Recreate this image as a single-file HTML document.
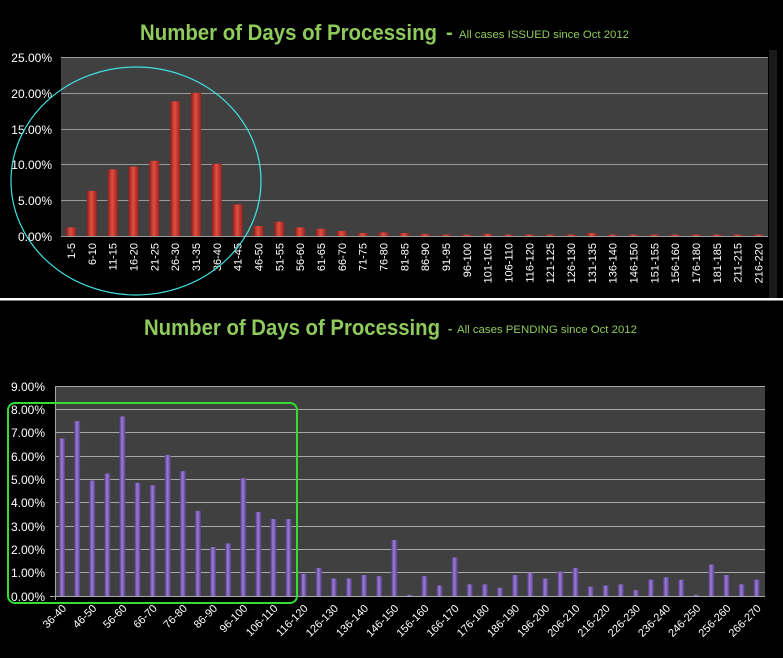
<!DOCTYPE html>
<html><head><meta charset="utf-8"><style>
html,body{margin:0;padding:0;background:#000;}
svg{display:block;font-family:"Liberation Sans",sans-serif;}
</style></head><body>
<svg width="783" height="658" viewBox="0 0 783 658" xmlns="http://www.w3.org/2000/svg">
<defs>
<linearGradient id="rg" x1="0" x2="1" y1="0" y2="0"><stop offset="0" stop-color="#8e1c1c"/><stop offset="0.45" stop-color="#e0503f"/><stop offset="1" stop-color="#9a2020"/></linearGradient>
<linearGradient id="pg" x1="0" x2="1" y1="0" y2="0"><stop offset="0" stop-color="#4f3680"/><stop offset="0.45" stop-color="#9b7ed4"/><stop offset="1" stop-color="#563c8a"/></linearGradient>
</defs>
<rect width="783" height="658" fill="#000"/>
<!-- TOP -->
<text x="140" y="40" font-size="22" font-weight="bold" fill="#8fca5c" textLength="297" lengthAdjust="spacingAndGlyphs">Number of Days of Processing</text>
<text x="446" y="39" font-size="20" font-weight="bold" fill="#8fca5c">-</text>
<text x="459" y="38" font-size="11" fill="#8fca5c" textLength="170" lengthAdjust="spacingAndGlyphs">All cases ISSUED  since Oct 2012</text>
<rect x="61" y="57" width="707" height="179" fill="#404040"/>
<rect x="769" y="50" width="8" height="248" fill="#1a1a1a"/>
<g stroke="#9a9a9a" stroke-width="1">
<line x1="61" x2="768" y1="57.5" y2="57.5"/><line x1="61" x2="768" y1="93.5" y2="93.5"/><line x1="61" x2="768" y1="129.5" y2="129.5"/><line x1="61" x2="768" y1="164.5" y2="164.5"/><line x1="61" x2="768" y1="200.5" y2="200.5"/><line x1="61" x2="768" y1="236.5" y2="236.5"/>
</g>
<g font-size="12" fill="#fff" text-anchor="end">
<text x="52" y="62">25.00%</text><text x="52" y="98">20.00%</text><text x="52" y="134">15.00%</text><text x="52" y="169">10.00%</text><text x="52" y="205">5.00%</text><text x="52" y="241">0.00%</text>
</g>
<g transform="translate(0,236) scale(1,-1)" fill="url(#rg)">
<rect x="66" y="0" width="10" height="8.6"/><rect x="86.8" y="0" width="10" height="45.1"/><rect x="107.7" y="0" width="10" height="66.6"/><rect x="128.5" y="0" width="10" height="69.5"/><rect x="149.3" y="0" width="10" height="75.2"/><rect x="170.2" y="0" width="10" height="134.6"/><rect x="191" y="0" width="10" height="143.2"/><rect x="211.8" y="0" width="10" height="72.3"/><rect x="232.6" y="0" width="10" height="31.5"/><rect x="253.5" y="0" width="10" height="10"/><rect x="274.3" y="0" width="10" height="14.3"/><rect x="295.1" y="0" width="10" height="8.6"/><rect x="316" y="0" width="10" height="7.2"/><rect x="336.8" y="0" width="10" height="5"/><rect x="357.6" y="0" width="10" height="2.9"/><rect x="378.5" y="0" width="10" height="3.6"/><rect x="399.3" y="0" width="10" height="2.9"/><rect x="420.1" y="0" width="10" height="2.1"/><rect x="441" y="0" width="10" height="1.4"/><rect x="461.8" y="0" width="10" height="1.4"/><rect x="482.6" y="0" width="10" height="2.1"/><rect x="503.5" y="0" width="10" height="1.4"/><rect x="524.3" y="0" width="10" height="1.4"/><rect x="545.1" y="0" width="10" height="1.4"/><rect x="566" y="0" width="10" height="1.4"/><rect x="586.8" y="0" width="10" height="2.9"/><rect x="607.6" y="0" width="10" height="1.4"/><rect x="628.5" y="0" width="10" height="1.4"/><rect x="649.3" y="0" width="10" height="1.4"/><rect x="670.1" y="0" width="10" height="1.4"/><rect x="691" y="0" width="10" height="1.4"/><rect x="711.8" y="0" width="10" height="1.4"/><rect x="732.6" y="0" width="10" height="1.4"/><rect x="753.5" y="0" width="10" height="1.4"/>
</g>
<g font-size="11" fill="#fff" text-anchor="end">
<text transform="translate(75,243) rotate(-90)">1-5</text><text transform="translate(95.8,243) rotate(-90)">6-10</text><text transform="translate(116.7,243) rotate(-90)">11-15</text><text transform="translate(137.5,243) rotate(-90)">16-20</text><text transform="translate(158.3,243) rotate(-90)">21-25</text><text transform="translate(179.2,243) rotate(-90)">26-30</text><text transform="translate(200,243) rotate(-90)">31-35</text><text transform="translate(220.8,243) rotate(-90)">36-40</text><text transform="translate(241.6,243) rotate(-90)">41-45</text><text transform="translate(262.5,243) rotate(-90)">46-50</text><text transform="translate(283.3,243) rotate(-90)">51-55</text><text transform="translate(304.1,243) rotate(-90)">56-60</text><text transform="translate(325,243) rotate(-90)">61-65</text><text transform="translate(345.8,243) rotate(-90)">66-70</text><text transform="translate(366.6,243) rotate(-90)">71-75</text><text transform="translate(387.5,243) rotate(-90)">76-80</text><text transform="translate(408.3,243) rotate(-90)">81-85</text><text transform="translate(429.1,243) rotate(-90)">86-90</text><text transform="translate(450,243) rotate(-90)">91-95</text><text transform="translate(470.8,243) rotate(-90)">96-100</text><text transform="translate(491.6,243) rotate(-90)">101-105</text><text transform="translate(512.5,243) rotate(-90)">106-110</text><text transform="translate(533.3,243) rotate(-90)">116-120</text><text transform="translate(554.1,243) rotate(-90)">121-125</text><text transform="translate(575,243) rotate(-90)">126-130</text><text transform="translate(595.8,243) rotate(-90)">131-135</text><text transform="translate(616.6,243) rotate(-90)">136-140</text><text transform="translate(637.5,243) rotate(-90)">146-150</text><text transform="translate(658.3,243) rotate(-90)">151-155</text><text transform="translate(679.1,243) rotate(-90)">156-160</text><text transform="translate(700,243) rotate(-90)">176-180</text><text transform="translate(720.8,243) rotate(-90)">181-185</text><text transform="translate(741.6,243) rotate(-90)">211-215</text><text transform="translate(762.5,243) rotate(-90)">216-220</text>
</g>
<ellipse cx="136" cy="181" rx="125" ry="114" fill="none" stroke="#40e0e0" stroke-width="1.2"/>
<rect x="0" y="298" width="783" height="2.5" fill="#fff"/>
<!-- BOTTOM -->
<text x="144" y="335" font-size="22" font-weight="bold" fill="#8fca5c" textLength="296" lengthAdjust="spacingAndGlyphs">Number of Days of Processing</text>
<text x="448" y="333" font-size="13" font-weight="bold" fill="#8fca5c">-</text>
<text x="457" y="333" font-size="11" fill="#8fca5c" textLength="180" lengthAdjust="spacingAndGlyphs">All cases PENDING  since Oct 2012</text>
<rect x="55" y="386" width="710" height="210" fill="#404040"/>
<g stroke="#a8a8a8" stroke-width="1">
<line x1="55" x2="765" y1="386.5" y2="386.5"/><line x1="55" x2="765" y1="409.5" y2="409.5"/><line x1="55" x2="765" y1="432.5" y2="432.5"/><line x1="55" x2="765" y1="456.5" y2="456.5"/><line x1="55" x2="765" y1="479.5" y2="479.5"/><line x1="55" x2="765" y1="502.5" y2="502.5"/><line x1="55" x2="765" y1="526.5" y2="526.5"/><line x1="55" x2="765" y1="549.5" y2="549.5"/><line x1="55" x2="765" y1="572.5" y2="572.5"/><line x1="50" x2="765" y1="596.5" y2="596.5"/>
<line x1="55.5" x2="55.5" y1="386" y2="600"/>
</g>
<g font-size="12" fill="#fff" text-anchor="end">
<text x="45" y="391">9.00%</text><text x="45" y="414">8.00%</text><text x="45" y="437">7.00%</text><text x="45" y="461">6.00%</text><text x="45" y="484">5.00%</text><text x="45" y="507">4.00%</text><text x="45" y="531">3.00%</text><text x="45" y="554">2.00%</text><text x="45" y="577">1.00%</text><text x="45" y="601">0.00%</text>
</g>
<g transform="translate(0,596) scale(1,-1)" fill="url(#pg)">
<rect x="59" y="0" width="6" height="157.5"/><rect x="74.1" y="0" width="6" height="175"/><rect x="89.2" y="0" width="6" height="115.5"/><rect x="104.3" y="0" width="6" height="122.5"/><rect x="119.4" y="0" width="6" height="179.6"/><rect x="134.5" y="0" width="6" height="113.2"/><rect x="149.6" y="0" width="6" height="110.8"/><rect x="164.7" y="0" width="6" height="141.1"/><rect x="179.8" y="0" width="6" height="124.8"/><rect x="194.9" y="0" width="6" height="85.2"/><rect x="210" y="0" width="6" height="49"/><rect x="225.1" y="0" width="6" height="52.5"/><rect x="240.2" y="0" width="6" height="117.8"/><rect x="255.3" y="0" width="6" height="84"/><rect x="270.4" y="0" width="6" height="77"/><rect x="285.5" y="0" width="6" height="77"/><rect x="300.6" y="0" width="6" height="22.2"/><rect x="315.7" y="0" width="6" height="28"/><rect x="330.8" y="0" width="6" height="17.5"/><rect x="345.9" y="0" width="6" height="17.5"/><rect x="361" y="0" width="6" height="21"/><rect x="376.1" y="0" width="6" height="19.8"/><rect x="391.2" y="0" width="6" height="56"/><rect x="406.3" y="0" width="6" height="1.2"/><rect x="421.4" y="0" width="6" height="19.8"/><rect x="436.5" y="0" width="6" height="10.5"/><rect x="451.6" y="0" width="6" height="38.5"/><rect x="466.7" y="0" width="6" height="11.7"/><rect x="481.8" y="0" width="6" height="11.7"/><rect x="496.9" y="0" width="6" height="8.2"/><rect x="512" y="0" width="6" height="21"/><rect x="527.1" y="0" width="6" height="23.3"/><rect x="542.2" y="0" width="6" height="17.5"/><rect x="557.3" y="0" width="6" height="24.5"/><rect x="572.4" y="0" width="6" height="28"/><rect x="587.5" y="0" width="6" height="9.3"/><rect x="602.6" y="0" width="6" height="10.5"/><rect x="617.7" y="0" width="6" height="11.7"/><rect x="632.8" y="0" width="6" height="5.8"/><rect x="647.9" y="0" width="6" height="16.3"/><rect x="663" y="0" width="6" height="18.7"/><rect x="678.1" y="0" width="6" height="16.3"/><rect x="693.2" y="0" width="6" height="1.2"/><rect x="708.3" y="0" width="6" height="31.5"/><rect x="723.4" y="0" width="6" height="21"/><rect x="738.5" y="0" width="6" height="11.7"/><rect x="753.6" y="0" width="6" height="16.3"/>
</g>
<g font-size="11" fill="#fff" text-anchor="end">
<text transform="translate(67,609) rotate(-45)">36-40</text><text transform="translate(97.2,609) rotate(-45)">46-50</text><text transform="translate(127.4,609) rotate(-45)">56-60</text><text transform="translate(157.6,609) rotate(-45)">66-70</text><text transform="translate(187.8,609) rotate(-45)">76-80</text><text transform="translate(218,609) rotate(-45)">86-90</text><text transform="translate(248.2,609) rotate(-45)">96-100</text><text transform="translate(278.4,609) rotate(-45)">106-110</text><text transform="translate(308.6,609) rotate(-45)">116-120</text><text transform="translate(338.8,609) rotate(-45)">126-130</text><text transform="translate(369,609) rotate(-45)">136-140</text><text transform="translate(399.2,609) rotate(-45)">146-150</text><text transform="translate(429.4,609) rotate(-45)">156-160</text><text transform="translate(459.6,609) rotate(-45)">166-170</text><text transform="translate(489.8,609) rotate(-45)">176-180</text><text transform="translate(520,609) rotate(-45)">186-190</text><text transform="translate(550.2,609) rotate(-45)">196-200</text><text transform="translate(580.4,609) rotate(-45)">206-210</text><text transform="translate(610.6,609) rotate(-45)">216-220</text><text transform="translate(640.8,609) rotate(-45)">226-230</text><text transform="translate(671,609) rotate(-45)">236-240</text><text transform="translate(701.2,609) rotate(-45)">246-250</text><text transform="translate(731.4,609) rotate(-45)">256-260</text><text transform="translate(761.6,609) rotate(-45)">266-270</text>
</g>
<rect x="8" y="403" width="289" height="200" rx="7" fill="none" stroke="#33dd33" stroke-width="2"/>
</svg>
</body></html>
